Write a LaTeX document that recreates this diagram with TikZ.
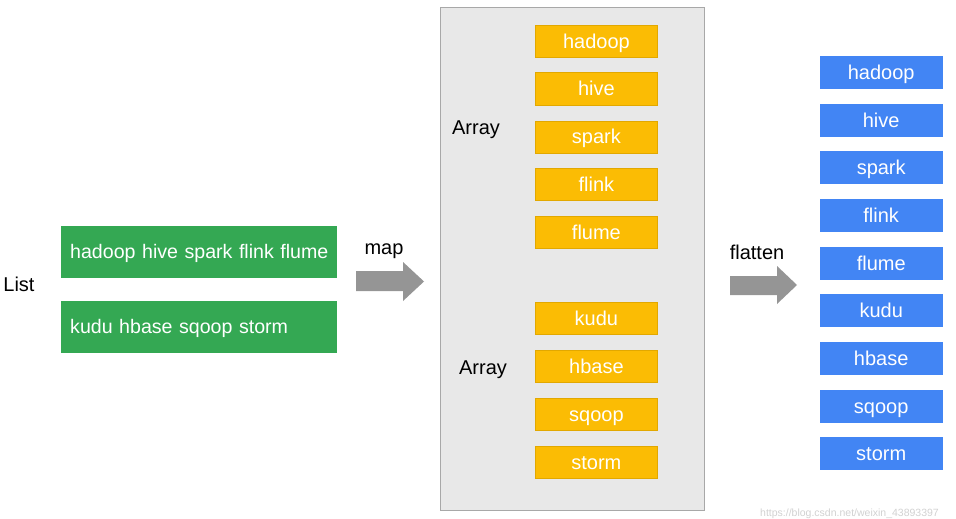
\documentclass[tikz,border=0pt]{standalone}
\usepackage{fontspec}
\setmainfont{Liberation Sans}
\definecolor{gfill}{HTML}{34A853}
\definecolor{yfill}{HTML}{FBBC04}
\definecolor{ydraw}{HTML}{E2A800}
\definecolor{bfill}{HTML}{4285F4}
\definecolor{pfill}{HTML}{E8E8E8}
\definecolor{pdraw}{HTML}{A8A8A8}
\definecolor{agray}{HTML}{959595}
\begin{document}
\begin{tikzpicture}[x=1pt,y=-1pt,
  every node/.style={font=\fontsize{20}{24}\selectfont},
  gbox/.style={fill=gfill, draw=gfill, anchor=north west, minimum width=275pt, minimum height=51pt,
    inner xsep=9pt, inner ysep=0pt, text width=257pt, align=left, text=white,
    text height=18pt, text depth=4pt, font=\fontsize{19.6}{24}\selectfont},
  ybox/.style={fill=yfill, draw=ydraw, line width=0.8pt, anchor=north west, minimum width=122pt, minimum height=32pt,
    inner sep=0pt, text=white, text height=17pt, text depth=3pt},
  bbox/.style={fill=bfill, draw=bfill, anchor=north west, minimum width=122pt, minimum height=32pt,
    inner sep=0pt, text=white, text height=17pt, text depth=3pt},
  blockarrow/.style={fill=agray, draw=none},
  lbl/.style={text=black, inner sep=0pt, text height=14.5pt, text depth=4pt}]
\useasboundingbox (0,0) rectangle (956,519);

% List
\node[lbl] (list) at (19,286) {List};
\node[gbox] (g1) at (61,226) {\mbox{hadoop hive spark flink flume}};
\node[gbox] (g2) at (61,301) {\mbox{kudu hbase sqoop storm}};

% map arrow
\node[lbl] (map) at (384,249) {map};
\fill[blockarrow] (356,271) -- (403,271) -- (403,262) -- (424,281.5) -- (403,301) -- (403,291) -- (356,291) -- cycle;

% panel
\node[fill=pfill, draw=pdraw, line width=0.8pt, anchor=north west, minimum width=264pt, minimum height=503pt, inner sep=0pt] (panel) at (440,7) {};
\node[lbl] (arr1) at (476,129) {Array};
\node[lbl] (arr2) at (483,369) {Array};
\node[ybox] (y1) at (535,25) {hadoop};
\node[ybox] (y2) at (535,72.5) {hive};
\node[ybox] (y3) at (535,120.5) {spark};
\node[ybox] (y4) at (535,168) {flink};
\node[ybox] (y5) at (535,216) {flume};
\node[ybox] (y6) at (535,302) {kudu};
\node[ybox] (y7) at (535,350) {hbase};
\node[ybox] (y8) at (535,398) {sqoop};
\node[ybox] (y9) at (535,446) {storm};

% flatten arrow
\node[lbl] (flat) at (757,254) {flatten};
\fill[blockarrow] (730,276) -- (777,276) -- (777,266) -- (797,285) -- (777,304) -- (777,295) -- (730,295) -- cycle;

% blue
\node[bbox] (b1) at (820,56) {hadoop};
\node[bbox] (b2) at (820,104) {hive};
\node[bbox] (b3) at (820,151) {spark};
\node[bbox] (b4) at (820,199) {flink};
\node[bbox] (b5) at (820,247) {flume};
\node[bbox] (b6) at (820,294) {kudu};
\node[bbox] (b7) at (820,342) {hbase};
\node[bbox] (b8) at (820,390) {sqoop};
\node[bbox] (b9) at (820,437) {storm};

% watermark
\node[anchor=base west, inner sep=0pt, text=black!18, font=\fontsize{10.5}{12}\selectfont] (wm) at (760,516) {https://blog.csdn.net/weixin\_43893397};
\end{tikzpicture}
\end{document}
